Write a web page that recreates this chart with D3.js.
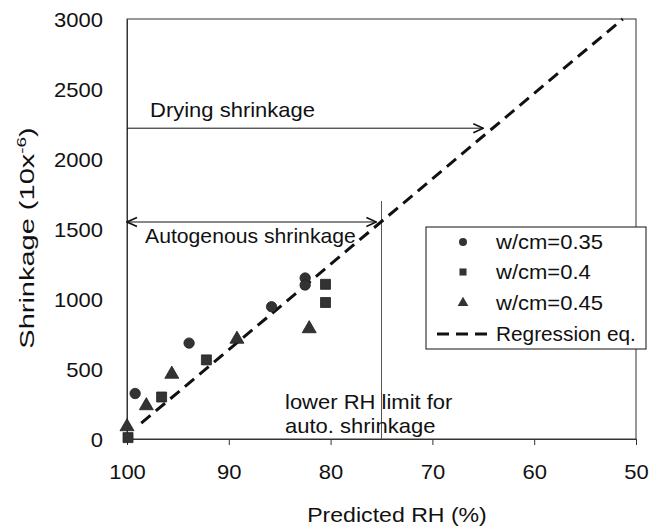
<!DOCTYPE html>
<html>
<head>
<meta charset="utf-8">
<script src="https://cdn.jsdelivr.net/npm/d3@7"></script>
<style>
  html, body { margin: 0; padding: 0; background: #fff; }
  svg { display: block; font-family: "Liberation Sans", Arial, sans-serif; }
</style>
</head>
<body>
<svg id="chart" width="654" height="527"></svg>
<script>
// ---- data ----
const seriesNames = ["w/cm=0.35", "w/cm=0.4", "w/cm=0.45"];
const rh035 = [99.2, 93.9, 85.8, 82.5, 82.5];
const shr035 = [325, 685, 945, 1150, 1100];
const rh040 = [99.9, 96.6, 92.2, 80.5, 80.5];
const shr040 = [10, 300, 565, 1105, 975];
const rh045 = [100, 98.1, 95.6, 89.2, 82.1];
const shr045 = [95, 245, 470, 720, 795];
const regRH = [98.6, 51.3];
const regShr = [113, 3000];
const xTicks = [100, 90, 80, 70, 60, 50];
const yTicks = [0, 500, 1000, 1500, 2000, 2500, 3000];
const dryingArrow = { rh: [100, 65], shr: 2220 };
const autoArrow = { rh: [100, 75.5], shr: 1550 };
const limitLine = { rh: 75, shr: [0, 1700] };

// ---- layout ----
const svg = d3.select("#chart");
const L = 127, T = 19, R = 636, B = 439;
const SX = 1.1;
const x = d3.scaleLinear().domain([100, 50]).range([L, R]);
const y = d3.scaleLinear().domain([0, 3000]).range([B, T]);
const ink = "#111";

// frame (top/right)
svg.append("rect").attr("x", L).attr("y", T).attr("width", R - L).attr("height", B - T)
  .attr("fill", "none").attr("stroke", "#333").attr("stroke-width", 1);

// arrow markers
const defs = svg.append("defs");
defs.append("marker").attr("id", "ahEnd").attr("viewBox", "-11 -6 12 12")
  .attr("refX", 0).attr("refY", 0).attr("markerWidth", 12).attr("markerHeight", 12)
  .attr("markerUnits", "userSpaceOnUse").attr("orient", "auto")
  .append("path").attr("d", "M-10,-4.5 L0,0 L-10,4.5").attr("fill", "none")
  .attr("stroke", ink).attr("stroke-width", 1.6);
defs.append("marker").attr("id", "ahStart").attr("viewBox", "-1 -6 12 12")
  .attr("refX", 0).attr("refY", 0).attr("markerWidth", 12).attr("markerHeight", 12)
  .attr("markerUnits", "userSpaceOnUse").attr("orient", "auto")
  .append("path").attr("d", "M10,-4.5 L0,0 L10,4.5").attr("fill", "none")
  .attr("stroke", ink).attr("stroke-width", 1.6);

// axes
const xAxis = svg.append("g").attr("transform", `translate(0,${B})`)
  .call(d3.axisBottom(x).tickValues(xTicks).tickSize(6).tickSizeOuter(0).tickFormat(d3.format("d")));
xAxis.select(".domain").attr("stroke", "#333");
xAxis.selectAll(".tick line").attr("stroke", "#333");
xAxis.selectAll(".tick text").attr("y", 40).attr("dy", null)
  .attr("font-size", 20).attr("fill", ink).attr("font-family", "Liberation Sans, Arial, sans-serif")
  .attr("transform", `scale(${SX},1)`);

const yAxis = svg.append("g").attr("transform", `translate(${L},0)`)
  .call(d3.axisLeft(y).tickValues(yTicks).tickSize(0).tickSizeOuter(0).tickFormat(d3.format("d")));
yAxis.select(".domain").attr("stroke", "#333");
yAxis.selectAll(".tick text").attr("x", 0).attr("dy", "0.35em")
  .attr("font-size", 20).attr("fill", ink).attr("font-family", "Liberation Sans, Arial, sans-serif")
  .attr("transform", `translate(-24,0) scale(${SX},1)`);

// helper for stretched text
function label(px, py, str, anchor, size, sx) {
  const g = svg.append("g").attr("transform", `translate(${px},${py})`);
  return g.append("text").attr("transform", `scale(${sx || SX},1)`)
    .attr("text-anchor", anchor || "start").attr("font-size", size || 20).attr("fill", ink).text(str);
}

// axis titles
label(397, 522, "Predicted RH (%)", "middle", 21);
const yt = svg.append("g").attr("transform", `translate(34,238) rotate(-90)`)
  .append("text").attr("transform", `scale(1.45,1)`).attr("text-anchor", "middle")
  .attr("font-size", 20).attr("fill", ink);
yt.append("tspan").text("Shrinkage (10x");
yt.append("tspan").attr("font-size", 13).attr("dy", -8).text("-6");
yt.append("tspan").attr("dy", 8).text(")");

// limit line
svg.append("line").attr("x1", x(limitLine.rh)).attr("x2", x(limitLine.rh))
  .attr("y1", y(limitLine.shr[1])).attr("y2", y(limitLine.shr[0]))
  .attr("stroke", "#555").attr("stroke-width", 1);

// arrows
svg.append("line").attr("x1", x(dryingArrow.rh[0])).attr("x2", x(dryingArrow.rh[1]))
  .attr("y1", y(dryingArrow.shr)).attr("y2", y(dryingArrow.shr))
  .attr("stroke", ink).attr("stroke-width", 1).attr("marker-end", "url(#ahEnd)");
svg.append("line").attr("x1", x(autoArrow.rh[0])).attr("x2", x(autoArrow.rh[1]))
  .attr("y1", y(autoArrow.shr)).attr("y2", y(autoArrow.shr))
  .attr("stroke", ink).attr("stroke-width", 1)
  .attr("marker-end", "url(#ahEnd)").attr("marker-start", "url(#ahStart)");

// annotations
label(150, 117, "Drying shrinkage");
label(145, 243, "Autogenous shrinkage", "start", 20, 1.06);
label(285, 409, "lower RH limit for");
label(285, 433, "auto. shrinkage");

// regression line
const regData = regRH.map((r, i) => ({ rh: r, v: regShr[i] }));
svg.append("path").datum(regData)
  .attr("d", d3.line().x(d => x(d.rh)).y(d => y(d.v)))
  .attr("fill", "none").attr("stroke", ink).attr("stroke-width", 3)
  .attr("stroke-dasharray", "12,7");

// points
const markFill = "#333";
const sym = [d3.symbolCircle, d3.symbolSquare, d3.symbolTriangle];
const symSize = [85, 100, 85];
const series = [
  rh035.map((r, i) => ({ rh: r, v: shr035[i] })),
  rh040.map((r, i) => ({ rh: r, v: shr040[i] })),
  rh045.map((r, i) => ({ rh: r, v: shr045[i] }))
];
series.forEach((s, k) => {
  svg.append("g").selectAll("path").data(s).join("path")
    .attr("d", d3.symbol(sym[k], symSize[k]))
    .attr("transform", d => `translate(${x(d.rh)},${y(d.v) + (k === 2 ? 1 : 0)})`)
    .attr("fill", markFill).attr("stroke", "#222").attr("stroke-width", 0.8);
});

// legend
const lg = svg.append("g");
lg.append("rect").attr("x", 426).attr("y", 227).attr("width", 220).attr("height", 122)
  .attr("fill", "#fff").attr("stroke", ink).attr("stroke-width", 1);
const legY = [242, 272, 303, 334];
seriesNames.forEach((n, k) => {
  lg.append("path").attr("d", d3.symbol(sym[k], 50))
    .attr("transform", `translate(463,${legY[k]})`).attr("fill", markFill);
  const g = lg.append("g").attr("transform", `translate(496,${legY[k] + 7})`);
  g.append("text").attr("transform", `scale(${SX},1)`).attr("font-size", 20).attr("fill", ink).text(n);
});
lg.append("line").attr("x1", 437).attr("x2", 489).attr("y1", legY[3]).attr("y2", legY[3])
  .attr("stroke", ink).attr("stroke-width", 3).attr("stroke-dasharray", "12,7");
const rg = lg.append("g").attr("transform", `translate(496,${legY[3] + 7})`);
rg.append("text").attr("transform", `scale(1.04,1)`).attr("font-size", 20).attr("fill", ink).text("Regression eq.");
</script>
</body>
</html>
